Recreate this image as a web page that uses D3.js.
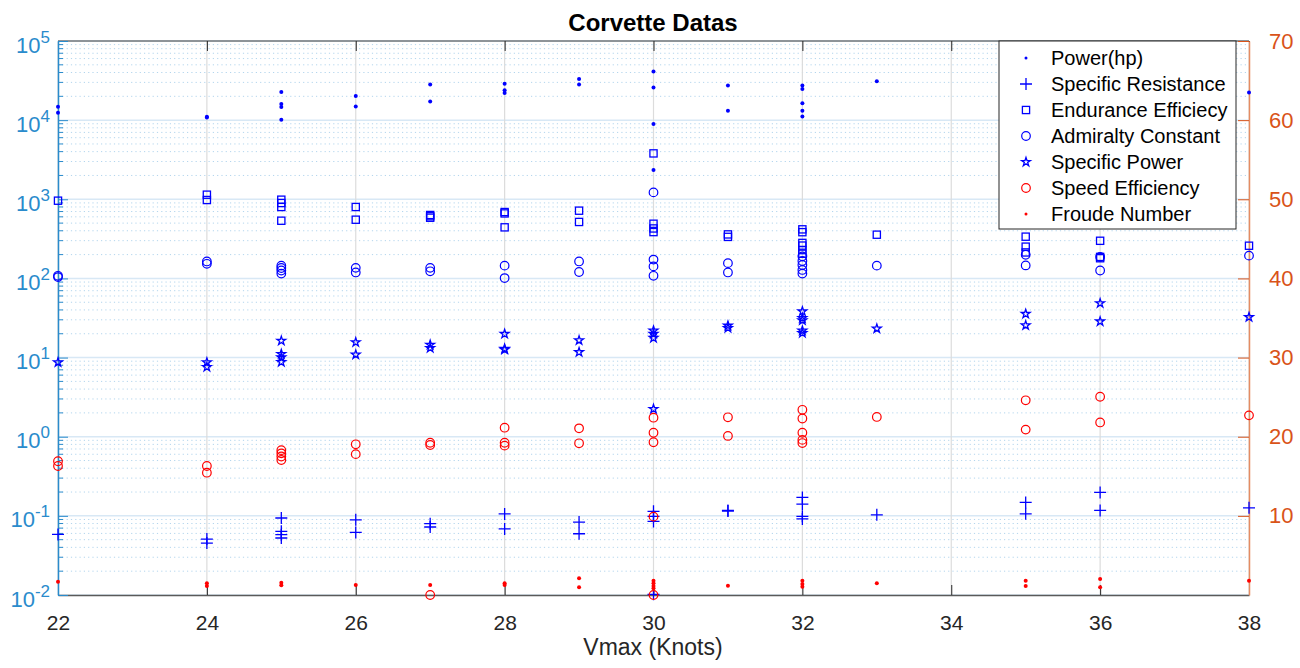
<!DOCTYPE html>
<html>
<head>
<meta charset="utf-8">
<script src="https://cdn.jsdelivr.net/npm/d3@7"></script>
<style>
  body { margin: 0; background: #fff; }
  svg { display: block; font-family: "Liberation Sans", Arial, sans-serif; }
</style>
</head>
<body>
<div id="chart"></div>
<script>
// tick values
const xTicks = [22, 24, 26, 28, 30, 32, 34, 36, 38];
const leftExponents = [-2, -1, 0, 1, 2, 3, 4, 5];
const rightTicks = [10, 20, 30, 40, 50, 60, 70];

// series, [Vmax knots, value]
const powerHp = [
  [22, 14800], [22, 12400], [24, 11000], [24, 10800],
  [25, 22700], [25, 16000], [25, 14650], [25, 10140],
  [26, 20200], [26, 14900], [27, 28300], [27, 17250],
  [28, 28800], [28, 23800], [28, 22000], [29, 33100], [29, 28300],
  [30, 41300], [30, 25900], [30, 8930], [30, 2340],
  [31, 27300], [31, 13150],
  [32, 27300], [32, 24700], [32, 16400], [32, 13150], [32, 11150],
  [33, 30900], [38, 22300]
];
const specificResistance = [
  [22, 0.0583], [24, 0.0509], [24, 0.0453],
  [25, 0.094], [25, 0.0637], [25, 0.0578], [25, 0.0525],
  [26, 0.089], [26, 0.0618], [27, 0.0796], [27, 0.0723],
  [28, 0.1057], [28, 0.0684], [29, 0.0835], [29, 0.0594],
  [30, 0.114], [30, 0.0987], [30, 0.085], [30, 0.0102],
  [31, 0.117], [31, 0.115],
  [32, 0.171], [32, 0.141], [32, 0.0987], [32, 0.0915],
  [33, 0.103], [35, 0.148], [35, 0.106], [36, 0.198], [36, 0.117],
  [38, 0.1265]
];
const enduranceEfficiency = [
  [22, 960], [24, 1143], [24, 979],
  [25, 988], [25, 897], [25, 799], [25, 536],
  [26, 799], [26, 552], [27, 633], [27, 610], [27, 585],
  [28, 690], [28, 663], [28, 442], [29, 718], [29, 517],
  [30, 3800], [30, 491], [30, 428], [30, 385],
  [31, 360], [31, 335],
  [32, 417], [32, 384], [32, 281], [32, 260], [32, 228], [32, 205],
  [33, 357], [35, 337], [35, 252], [35, 213],
  [36, 299], [36, 187], [36, 180], [38, 259]
];
const admiraltyConstant = [
  [22, 108], [22, 104], [24, 164], [24, 153],
  [25, 145], [25, 135.5], [25, 126], [25, 115],
  [26, 136], [26, 119], [27, 136], [27, 123],
  [28, 145], [28, 101], [29, 164], [29, 120.5],
  [30, 1222], [30, 173], [30, 142], [30, 108],
  [31, 156], [31, 119],
  [32, 190], [32, 166], [32, 148], [32, 128], [32, 115],
  [33, 145], [35, 199], [35, 146], [36, 187], [36, 126], [38, 194]
];
const specificPower = [
  [22, 8.7], [24, 8.7], [24, 7.6],
  [25, 16.3], [25, 11.1], [25, 10.05], [25, 8.8],
  [26, 15.6], [26, 10.9], [27, 14.5], [27, 13.2],
  [28, 19.9], [28, 12.9], [28, 12.6], [29, 16.5], [29, 11.7],
  [30, 21.9], [30, 19.9], [30, 17.7], [30, 2.24],
  [31, 25.3], [31, 23.6],
  [32, 38.3], [32, 31.6], [32, 29.5], [32, 21.9], [32, 20.4],
  [33, 23.2], [35, 35.6], [35, 25.5], [36, 48.5], [36, 28.6], [38, 32.4]
];
// right axis series
const speedEfficiency = [
  [22, 16.9], [22, 16.3], [24, 16.3], [24, 15.45],
  [25, 18.3], [25, 17.9], [25, 17.5], [25, 17.06],
  [26, 19.04], [26, 17.8], [27, 19.24], [27, 18.95], [27, 0],
  [28, 21.14], [28, 19.24], [28, 18.87], [29, 21.06], [29, 19.17],
  [30, 22.4], [30, 20.5], [30, 19.3], [30, 9.9], [30, 0],
  [31, 22.45], [31, 20.1],
  [32, 23.4], [32, 22.3], [32, 20.5], [32, 19.6], [32, 19.2],
  [33, 22.5], [35, 24.6], [35, 20.9], [36, 25.05], [36, 21.8], [38, 22.7]
];
const froudeNumber = [
  [22, 1.68], [24, 1.48], [24, 1.14], [25, 1.56], [25, 1.22],
  [26, 1.26], [27, 1.26], [28, 1.48], [28, 1.26], [29, 2.11], [29, 0.97],
  [30, 1.81], [30, 1.48], [30, 1.14], [30, 0.85], [31, 1.18],
  [32, 1.81], [32, 1.39], [32, 1.05], [33, 1.48],
  [35, 1.81], [35, 1.14], [36, 2.02], [36, 0.97], [38, 1.81]
];

const W = 1300, H = 668;
const plot = { left: 58, right: 1249, top: 41, bottom: 595 };
const leftColor = "#2a8bcc";
const rightColor = "#d95319";

const x = d3.scaleLinear().domain([22, 38]).range([plot.left, plot.right]);
const yL = d3.scaleLog().domain([1e-2, 1e5]).range([plot.bottom, plot.top]);
const yR = d3.scaleLinear().domain([0, 70]).range([plot.bottom, plot.top]);

const svg = d3.select("#chart").append("svg")
  .attr("width", W).attr("height", H);

// grid
const grid = svg.append("g");
const minors = [];
leftExponents.slice(0, -1).forEach(e => {
  for (let k = 2; k <= 9; k++) minors.push(k * Math.pow(10, e));
});
grid.selectAll(".minor").data(minors).join("line")
  .attr("x1", plot.left).attr("x2", plot.right)
  .attr("y1", d => yL(d)).attr("y2", d => yL(d))
  .attr("stroke", "#b3d5ed").attr("stroke-width", 1)
  .attr("stroke-dasharray", "1.2,3.1");
grid.selectAll(".major").data(leftExponents).join("line")
  .attr("x1", plot.left).attr("x2", plot.right)
  .attr("y1", d => yL(Math.pow(10, d))).attr("y2", d => yL(Math.pow(10, d)))
  .attr("stroke", "#d8e8f5").attr("stroke-width", 1.5);
grid.selectAll(".vgrid").data(xTicks).join("line")
  .attr("x1", d => x(d)).attr("x2", d => x(d))
  .attr("y1", plot.top).attr("y2", plot.bottom)
  .attr("stroke", "#dcdcdc").attr("stroke-width", 1.2);

// box top line
svg.append("line")
  .attr("x1", plot.left).attr("x2", plot.right)
  .attr("y1", plot.top).attr("y2", plot.top)
  .attr("stroke", "#3a3a3a").attr("stroke-width", 1);

// x axis bottom
const xAxis = svg.append("g")
  .attr("transform", `translate(0,${plot.bottom})`)
  .call(d3.axisBottom(x).tickValues(xTicks).tickSizeInner(-10).tickSizeOuter(0).tickPadding(20));
xAxis.select(".domain").attr("stroke", "#5a5a5a").attr("stroke-width", 1.5);
xAxis.selectAll(".tick line").attr("stroke", "#262626");
xAxis.selectAll(".tick text").attr("font-size", 21).attr("fill", "#262626")
  .attr("font-family", "Liberation Sans, Arial, sans-serif");

// x axis top ticks
const xTop = svg.append("g")
  .attr("transform", `translate(0,${plot.top})`)
  .call(d3.axisTop(x).tickValues(xTicks).tickSizeInner(-10).tickSizeOuter(0).tickFormat(""));
xTop.select(".domain").remove();
xTop.selectAll(".tick line").attr("stroke", "#262626");

// left log axis
const majorVals = leftExponents.map(e => Math.pow(10, e));
const yLeft = svg.append("g")
  .attr("transform", `translate(${plot.left},0)`)
  .call(d3.axisLeft(yL).tickValues(majorVals).tickSizeInner(-10).tickSizeOuter(0).tickFormat(""));
yLeft.select(".domain").attr("stroke", leftColor).attr("stroke-width", 1.5);
yLeft.selectAll(".tick line").attr("stroke", leftColor);
yLeft.selectAll(".tick").each(function (d) {
  const t = d3.select(this).append("text")
    .attr("x", -8).attr("y", 11)
    .attr("text-anchor", "end")
    .attr("fill", leftColor)
    .attr("font-size", 22);
  t.append("tspan").text("10");
  t.append("tspan").attr("dy", -10).attr("font-size", 17).text(Math.round(Math.log10(d)));
});
svg.append("g").selectAll("line").data(minors).join("line")
  .attr("x1", plot.left).attr("x2", plot.left + 5)
  .attr("y1", d => yL(d)).attr("y2", d => yL(d))
  .attr("stroke", leftColor);

// right axis
const yRight = svg.append("g")
  .attr("transform", `translate(${plot.right},0)`)
  .call(d3.axisRight(yR).tickValues(rightTicks).tickSizeInner(-11).tickSizeOuter(0).tickPadding(20));
yRight.select(".domain").attr("stroke", "#e58c62").attr("stroke-width", 1.5);
yRight.selectAll(".tick line").attr("stroke", rightColor);
yRight.selectAll(".tick text").attr("font-size", 22).attr("fill", rightColor)
  .attr("font-family", "Liberation Sans, Arial, sans-serif");

// labels
svg.append("text")
  .attr("x", 653).attr("y", 31)
  .attr("text-anchor", "middle").attr("font-weight", "bold")
  .attr("font-size", 24).attr("fill", "#000")
  .text("Corvette Datas");
svg.append("text")
  .attr("x", 653).attr("y", 655)
  .attr("text-anchor", "middle")
  .attr("font-size", 23).attr("fill", "#262626")
  .text("Vmax (Knots)");

// marker drawers
const blue = "#0000ff", red = "#ff0000";
const starPath = d3.symbol().type(d3.symbolStar).size(24)();
const markers = {
  dot: (g, c) => g.append("circle").attr("r", 2).attr("fill", c),
  plus: (g, c) => g.append("path").attr("d", "M-6,0H6M0,-6V6")
    .attr("stroke", c).attr("stroke-width", 1.3).attr("fill", "none"),
  square: (g, c) => g.append("rect").attr("x", -3.6).attr("y", -3.6)
    .attr("width", 7.2).attr("height", 7.2)
    .attr("stroke", c).attr("stroke-width", 1.3).attr("fill", "none"),
  circle: (g, c) => g.append("circle").attr("r", 4.3)
    .attr("stroke", c).attr("stroke-width", 1.2).attr("fill", "none"),
  star: (g, c) => g.append("path").attr("d", starPath)
    .attr("stroke", c).attr("stroke-width", 1.3).attr("fill", "none")
};

const series = [
  { name: "Power(hp)", data: powerHp, y: yL, m: "dot", c: blue },
  { name: "Specific Resistance", data: specificResistance, y: yL, m: "plus", c: blue },
  { name: "Endurance Efficiecy", data: enduranceEfficiency, y: yL, m: "square", c: blue },
  { name: "Admiralty Constant", data: admiraltyConstant, y: yL, m: "circle", c: blue },
  { name: "Specific Power", data: specificPower, y: yL, m: "star", c: blue },
  { name: "Speed Efficiency", data: speedEfficiency, y: yR, m: "circle", c: red },
  { name: "Froude Number", data: froudeNumber, y: yR, m: "dot", c: red }
];

const pts = svg.append("g");
series.forEach(s => {
  pts.append("g").selectAll("g").data(s.data).join("g")
    .attr("transform", d => `translate(${x(d[0])},${s.y(d[1])})`)
    .each(function () { markers[s.m](d3.select(this), s.c); });
});

// legend
const lg = svg.append("g").attr("transform", "translate(999,41)");
lg.append("rect").attr("width", 237).attr("height", 188)
  .attr("fill", "#fff").attr("stroke", "#262626").attr("stroke-width", 1);
series.forEach((s, i) => {
  const row = lg.append("g").attr("transform", `translate(27,${17 + i * 26})`);
  const mk = row.append("g");
  markers[s.m](mk, s.c);
  if (s.m === "dot") mk.select("circle").attr("r", 1.5);
  row.append("text").attr("x", 25).attr("y", 7)
    .attr("font-size", 20).attr("fill", "#000").text(s.name);
});
</script>
</body>
</html>
